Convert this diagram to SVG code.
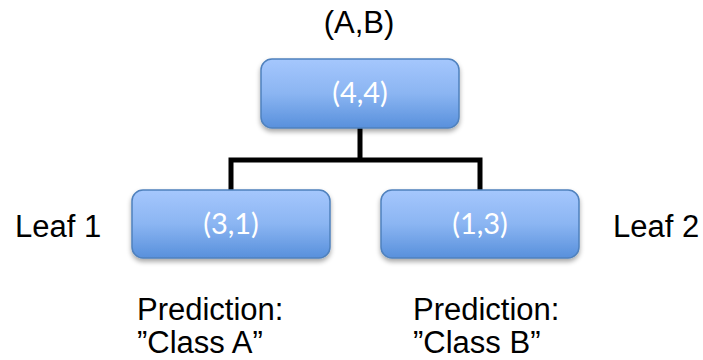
<svg xmlns="http://www.w3.org/2000/svg" width="703" height="360" viewBox="0 0 703 360">
  <defs>
    <linearGradient id="boxGrad" x1="0" y1="0" x2="0" y2="1">
      <stop offset="0" stop-color="#a5c7fd"/>
      <stop offset="0.5" stop-color="#8bb5f2"/>
      <stop offset="1" stop-color="#5890dc"/>
    </linearGradient>
    <filter id="shadow" x="-10%" y="-10%" width="120%" height="140%">
      <feGaussianBlur in="SourceAlpha" stdDeviation="2.5"/>
      <feOffset dx="0" dy="3" result="b"/>
      <feComponentTransfer><feFuncA type="linear" slope="0.35"/></feComponentTransfer>
      <feMerge><feMergeNode/><feMergeNode in="SourceGraphic"/></feMerge>
    </filter>
  </defs>
  <style>
    .box { fill: url(#boxGrad); stroke: #4f81bd; stroke-width: 1.5; filter: url(#shadow); }
    .ntext { font-family: Lato, "Open Sans", sans-serif; font-size: 29px; fill: #ffffff; text-anchor: middle; }
    .label { font-family: "Liberation Sans", Arial, sans-serif; font-size: 31px; fill: #000000; }
    .conn { fill: none; stroke: #000000; stroke-width: 5; stroke-linejoin: miter; }
  </style>
  <g id="connectors">
    <path class="conn" d="M360,128 V160 M231,190 V160 H480 V190"/>
  </g>
  <g id="node-root">
    <rect class="box" x="261" y="59" width="198" height="69" rx="11"/>
    <text class="ntext" x="360" y="103">(4,4)</text>
  </g>
  <g id="node-leaf1">
    <rect class="box" x="132" y="190" width="198" height="68" rx="11"/>
    <text class="ntext" x="231" y="234">(3,1)</text>
  </g>
  <g id="node-leaf2">
    <rect class="box" x="381" y="190" width="198" height="68" rx="11"/>
    <text class="ntext" x="480" y="234">(1,3)</text>
  </g>
  <g id="labels">
    <text class="label" x="359" y="33" text-anchor="middle">(A,B)</text>
    <text class="label" x="15" y="237">Leaf 1</text>
    <text class="label" x="613" y="237">Leaf 2</text>
    <text class="label" x="137" y="320">Prediction:</text>
    <text class="label" x="137" y="353">”Class A”</text>
    <text class="label" x="413" y="320">Prediction:</text>
    <text class="label" x="413" y="353">”Class B”</text>
  </g>
</svg>
